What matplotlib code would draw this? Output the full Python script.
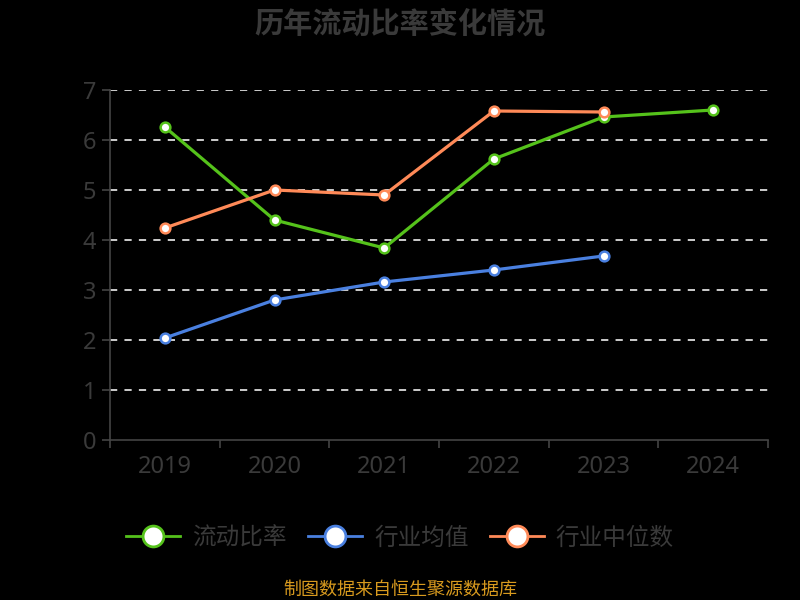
import matplotlib.pyplot as plt
from matplotlib.lines import Line2D

plt.rcParams['font.family'] = ['Noto Sans CJK SC', 'DejaVu Sans']

years = ['2019', '2020', '2021', '2022', '2023', '2024']
current_ratio = [6.26, 4.40, 3.84, 5.62, 6.46, 6.60]
industry_mean = [2.04, 2.80, 3.16, 3.40, 3.68]
industry_median = [4.24, 5.00, 4.90, 6.58, 6.56]

series = [
    ('流动比率', current_ratio, '#55c21b'),
    ('行业均值', industry_mean, '#4a80e0'),
    ('行业中位数', industry_median, '#ff8a58'),
]

text_gray = '#3a3a3a'
axis_gray = '#444444'

fig = plt.figure(figsize=(8, 6), dpi=100, facecolor='black')
ax = fig.add_axes([0.1375, 0.2667, 0.8225, 0.5833])
ax.set_facecolor('black')

# draw order: blue, orange, then green on top
for idx in [1, 2, 0]:
    name, vals, color = series[idx]
    x = list(range(len(vals)))
    ax.plot(x, vals, color=color, linewidth=2.3, marker='o', markersize=7,
            markerfacecolor='white', markeredgecolor=color, markeredgewidth=1.8,
            zorder=3 + idx)

ax.set_xlim(-0.5, len(years) - 0.5)
ax.set_ylim(0, 7)
ax.set_yticks(range(0, 8))
ax.set_xticks([i - 0.5 for i in range(len(years) + 1)], minor=False)
ax.set_xticklabels([])
ax.set_xticks(range(len(years)), minor=True)
ax.set_xticklabels(years, minor=True)
ax.tick_params(axis='x', which='minor', length=0, pad=11, labelsize=17, labelcolor=text_gray)
ax.tick_params(axis='x', which='major', length=6, color=axis_gray, width=1.2)
ax.tick_params(axis='y', length=6, color=axis_gray, width=1.2, labelsize=17,
               labelcolor=text_gray, pad=4)
for lbl in ax.get_xticklabels(minor=True) + ax.get_yticklabels():
    lbl.set_family(['Noto Sans', 'DejaVu Sans'])

for side in ['top', 'right']:
    ax.spines[side].set_visible(False)
for side in ['left', 'bottom']:
    ax.spines[side].set_color(axis_gray)
    ax.spines[side].set_linewidth(1.2)

for v in range(1, 8):
    ax.axhline(v, color='#dddddd', linewidth=1.3, linestyle=(0, (4, 4)), zorder=1)

fig.text(0.5, 0.96, '历年流动比率变化情况', ha='center', va='center',
         fontsize=21, fontweight='bold', color=text_gray)

handles = [Line2D([0], [0], color=c, linewidth=2, marker='o', markersize=15,
                  markerfacecolor='white', markeredgecolor=c, markeredgewidth=2)
           for _, _, c in series]
fig.legend(handles, [s[0] for s in series], loc='center', bbox_to_anchor=(0.5, 0.103),
           ncol=3, frameon=False, fontsize=17, labelcolor=text_gray,
           handlelength=2.3, columnspacing=0.9, handletextpad=0.5)

fig.text(0.5, 0.017, '制图数据来自恒生聚源数据库', ha='center', va='center',
         fontsize=13, color='#d89a1e')

fig.savefig('out.png', dpi=100, facecolor='black')
